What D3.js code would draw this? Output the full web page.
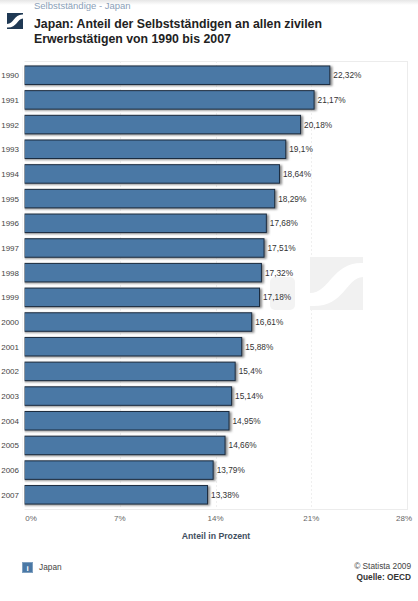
<!DOCTYPE html>
<html><head><meta charset="utf-8">
<script src="https://cdn.jsdelivr.net/npm/d3@7/dist/d3.min.js"></script>
<style>html,body{margin:0;padding:0;background:#fff}svg{display:block}text{font-family:"Liberation Sans",Arial,sans-serif}</style>
</head><body><svg id="c" width="418" height="601"></svg>
<script>
const years=["1990","1991","1992","1993","1994","1995","1996","1997","1998","1999","2000","2001","2002","2003","2004","2005","2006","2007"];
const values=[22.32,21.17,20.18,19.1,18.64,18.29,17.68,17.51,17.32,17.18,16.61,15.88,15.4,15.14,14.95,14.66,13.79,13.38];
const ticks=[0,7,14,21,28];
const titleLines=["Japan: Anteil der Selbstständigen an allen zivilen","Erwerbstätigen von 1990 bis 2007"];
const fmt=v=>String(v).replace(".",",")+"%";
const svg=d3.select("#c");
const defs=svg.append("defs");
const g0=defs.append("linearGradient").attr("id","topfade").attr("x1",0).attr("x2",0).attr("y1",0).attr("y2",1);
g0.append("stop").attr("offset",0).attr("stop-color","#e6e6e6");g0.append("stop").attr("offset",1).attr("stop-color","#fff");
defs.append("filter").attr("id","soft").attr("x","-10%").attr("y","-20%").attr("width","120%").attr("height","140%").append("feGaussianBlur").attr("stdDeviation",1);
svg.append("rect").attr("width",418).attr("height",5).attr("fill","url(#topfade)");

const x=d3.scaleLinear().domain([0,28]).range([24,407]);
const y=d3.scaleBand().domain(years).range([63,507]).paddingInner(0.21).paddingOuter(0.1);
const mid=d=>y(d)+y.bandwidth()/2;
const plotTop=61,plotBottom=510;

// plot frame and grid
svg.append("rect").attr("x",x(0)-.5).attr("y",plotTop+.5).attr("width",x(28)-x(0)+1).attr("height",plotBottom-plotTop-1).attr("fill","#fff").attr("stroke","#ececec");
svg.selectAll(".grid").data(ticks.slice(1,4)).join("line").attr("class","grid").attr("x1",d=>Math.round(x(d))+.5).attr("x2",d=>Math.round(x(d))+.5).attr("y1",plotTop).attr("y2",plotBottom).attr("stroke","#efefef").attr("stroke-dasharray","2,2");

// watermark (image-like, faint)
const wm=svg.append("g");
wm.append("rect").attr("x",310).attr("y",257).attr("width",53).attr("height",53).attr("fill","#f1f1f1");
wm.append("path").attr("d","M310 293 C330 293 332 262 363 263 L363 277 C345 278 345 308 310 306 Z").attr("fill","#fff");
wm.append("rect").attr("x",270).attr("y",277).attr("width",25).attr("height",33).attr("rx",5).attr("fill","#f3f3f3");

// bars
svg.selectAll(".sh").data(years).join("rect").attr("class","sh").attr("x",x(0)).attr("y",d=>y(d)+1).attr("height",y.bandwidth())
 .attr("width",(d,i)=>x(values[i])-x(0)+3).attr("fill","#8a8a8a").attr("filter","url(#soft)");
svg.selectAll(".bar").data(years).join("rect").attr("class","bar").attr("x",x(0)+.5).attr("y",d=>y(d)+.5).attr("height",y.bandwidth()-1)
 .attr("width",(d,i)=>x(values[i])-x(0)).attr("fill","#4a78a5").attr("stroke","#1c2c3f").attr("stroke-width",1);
svg.append("rect").attr("x",x(0)-1).attr("y",plotTop).attr("width",1.5).attr("height",plotBottom-plotTop).attr("fill","#fff");
svg.selectAll(".val").data(years).join("text").attr("class","val").attr("x",(d,i)=>x(values[i])+4).attr("y",d=>mid(d)+3)
 .attr("font-size",8.3).attr("fill","#333").text((d,i)=>fmt(values[i]));
svg.selectAll(".yr").data(years).join("text").attr("class","yr").attr("x",19).attr("y",d=>mid(d)+3).attr("text-anchor","end")
 .attr("font-size",8).attr("fill","#444").text(d=>d);
svg.selectAll(".tick").data(ticks).join("text").attr("class","tick").attr("x",(d,i)=>i==0?31:i==4?404:x(d)).attr("y",521).attr("text-anchor","middle")
 .attr("font-size",8).attr("fill","#666").text(d=>d+"%");
svg.append("text").attr("x",216).attr("y",539).attr("text-anchor","middle").attr("font-size",8.7).attr("font-weight","bold").attr("fill","#3f4f60").text("Anteil in Prozent");

// header
svg.append("text").attr("x",34).attr("y",9).attr("font-size",9.5).attr("fill","#8aa0b8").text("Selbstständige - Japan");
svg.selectAll(".ttl").data(titleLines).join("text").attr("class","ttl").attr("x",34).attr("y",(d,i)=>28+i*14.7).attr("font-size",12.3).attr("font-weight","bold").attr("fill","#222").text(d=>d);
const logo=svg.append("g");
logo.append("rect").attr("x",7).attr("y",13).attr("width",16).attr("height",16).attr("fill","#1f3954");
logo.append("path").attr("d","M7 24 C14 24 14 14 23 14.5 L23 18.5 C17 19 17 28 7 27.5 Z").attr("fill","#fff");

// legend and source
svg.append("rect").attr("x",22.5).attr("y",562.5).attr("width",10).attr("height",10).attr("fill","#4a78a5").attr("stroke","#7fa0c0");
svg.append("text").attr("x",27.5).attr("y",571).attr("text-anchor","middle").attr("font-size",8).attr("font-weight","bold").attr("fill","#fff").text("i");
svg.append("text").attr("x",39).attr("y",569.5).attr("font-size",8.3).attr("fill","#444").text("Japan");
svg.append("text").attr("x",411).attr("y",569).attr("text-anchor","end").attr("font-size",8.3).attr("fill","#444").text("© Statista 2009");
svg.append("text").attr("x",411).attr("y",580).attr("text-anchor","end").attr("font-size",8.3).attr("font-weight","bold").attr("fill","#333").text("Quelle: OECD");
</script></body></html>
